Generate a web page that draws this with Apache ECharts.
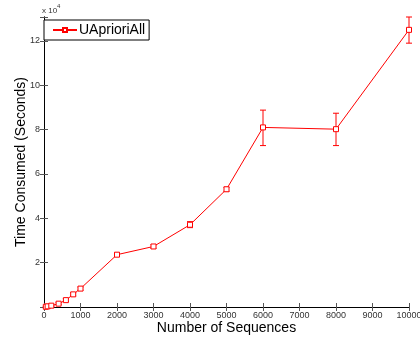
<!DOCTYPE html>
<html>
<head>
<meta charset="utf-8">
<script src="https://cdn.jsdelivr.net/npm/echarts@6/dist/echarts.min.js"></script>
<style>
  html, body { margin: 0; padding: 0; background: #fff; }
  #chart { width: 420px; height: 337px; }
</style>
</head>
<body>
<div id="chart"></div>
<script>
// sequences count
var seqCounts = [50, 100, 200, 400, 600, 800, 1000, 2000, 3000, 4000, 5000, 6000, 8000, 10000];
// time consumed, in units of 10^4 seconds
var timeMean = [0.01, 0.03, 0.06, 0.15, 0.31, 0.57, 0.83, 2.36, 2.73, 3.71, 5.31, 8.1, 8.02, 12.5];
var timeLow = [0.0, 0.01, 0.03, 0.11, 0.25, 0.5, 0.76, 2.29, 2.65, 3.58, 5.22, 7.28, 7.28, 11.9];
var timeHigh = [0.03, 0.06, 0.09, 0.2, 0.38, 0.64, 0.9, 2.43, 2.81, 3.85, 5.4, 8.88, 8.74, 13.08];
var xTicks = [0, 1000, 2000, 3000, 4000, 5000, 6000, 7000, 8000, 9000, 10000];
var yTicks = [2, 4, 6, 8, 10, 12];

var lineData = seqCounts.map(function(x, i) { return [x, timeMean[i]]; });
var errData = seqCounts.map(function(x, i) { return [x, timeLow[i], timeHigh[i]]; });

var chart = echarts.init(document.getElementById('chart'));
var red = '#ff0000';
var axisCol = '#000';
var labelCol = '#333';

var option = {
    animation: false,
    grid: { left: 44, right: 11, top: 17, bottom: 30, outerBoundsMode: 'none' },
    legend: {
        left: 44, top: 20,
        orient: 'vertical',
        data: ['UAprioriAll'],
        itemWidth: 24, itemHeight: 5,
        padding: [3, 4, 3, 8],
        borderColor: '#000', borderWidth: 1,
        backgroundColor: '#fff',
        textStyle: { fontFamily: 'Liberation Sans', fontSize: 14, color: '#000', padding: [0, 0, 0, -3] }
    },
    graphic: [{
        type: 'text', left: 42, top: 3,
        style: {
            text: '{a|x 10}{b|4}',
            rich: {
                a: { fontFamily: 'Liberation Sans', fontSize: 8, fill: labelCol, padding: [4, 0, 0, 0] },
                b: { fontFamily: 'Liberation Sans', fontSize: 6, fill: labelCol, verticalAlign: 'top' }
            }
        }
    }],
    xAxis: [{
        type: 'value', min: 0, max: 10000, interval: 1000,
        name: 'Number of Sequences', nameLocation: 'middle', nameGap: 14, nameMoveOverlap: false,
        nameTextStyle: { fontFamily: 'Liberation Sans', fontSize: 14, color: '#000', verticalAlign: 'top' },
        axisLine: { lineStyle: { color: axisCol, width: 1 } },
        axisTick: { inside: true, length: 4, lineStyle: { color: '#555' } },
        axisLabel: {
            fontFamily: 'Liberation Sans', fontSize: 9, color: labelCol, margin: 4,
            formatter: function(v) { return xTicks.indexOf(v) >= 0 ? String(v) : ''; }
        },
        splitLine: { show: false }
    }, {
        type: 'value', min: 0, max: 10000, interval: 1000, position: 'top',
        axisLine: { lineStyle: { color: axisCol, width: 1 } },
        axisTick: { inside: true, length: 4, lineStyle: { color: '#555' } },
        axisLabel: { show: false },
        splitLine: { show: false }
    }],
    yAxis: [{
        type: 'value', min: 0, max: 13.08, interval: 2,
        name: 'Time Consumed (Seconds)', nameLocation: 'middle', nameGap: 16, nameMoveOverlap: false,
        nameTextStyle: { fontFamily: 'Liberation Sans', fontSize: 14, color: '#000', verticalAlign: 'bottom' },
        axisLine: { show: true, lineStyle: { color: axisCol, width: 1 } },
        axisTick: { show: true, inside: true, length: 4, lineStyle: { color: '#555' } },
        axisLabel: {
            fontFamily: 'Liberation Sans', fontSize: 9, color: labelCol, margin: 4,
            formatter: function(v) { return yTicks.indexOf(v) >= 0 ? String(v) : ''; }
        },
        splitLine: { show: false }
    }, {
        type: 'value', min: 0, max: 13.08, interval: 2, position: 'right',
        axisLine: { show: true, lineStyle: { color: axisCol, width: 1 } },
        axisTick: { show: true, inside: true, length: 4, lineStyle: { color: '#555' } },
        axisLabel: { show: false },
        splitLine: { show: false }
    }],
    series: [{
        name: 'UAprioriAll',
        type: 'line',
        data: lineData,
        symbol: 'rect', symbolSize: 5,
        itemStyle: { color: '#fff', borderColor: red, borderWidth: 1 },
        lineStyle: { color: red, width: 1 },
        z: 3
    }, {
        type: 'custom',
        data: errData,
        encode: { x: 0, y: [1, 2] },
        z: 2,
        renderItem: function(params, api) {
            var x = api.value(0);
            var lo = api.coord([x, api.value(1)]);
            var hi = api.coord([x, api.value(2)]);
            var cap = 3;
            var st = { stroke: red, lineWidth: 1 };
            return {
                type: 'group',
                children: [
                    { type: 'line', shape: { x1: lo[0], y1: lo[1], x2: hi[0], y2: hi[1] }, style: st },
                    { type: 'line', shape: { x1: lo[0] - cap, y1: lo[1], x2: lo[0] + cap, y2: lo[1] }, style: st },
                    { type: 'line', shape: { x1: hi[0] - cap, y1: hi[1], x2: hi[0] + cap, y2: hi[1] }, style: st }
                ]
            };
        }
    }]
};

chart.setOption(option);
</script>
</body>
</html>
